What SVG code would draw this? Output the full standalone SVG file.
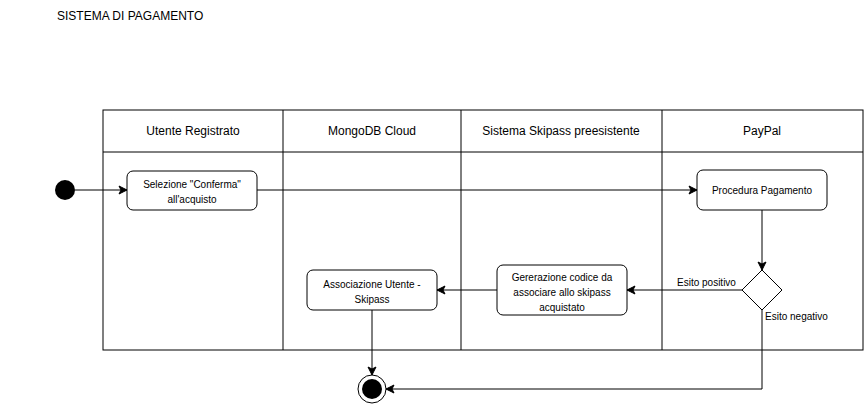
<svg xmlns="http://www.w3.org/2000/svg" width="866" height="405" viewBox="0 0 866 405">
<defs>
<style>
text{font-family:"Liberation Sans",Arial,sans-serif;fill:#000}
.t{font-size:12px}
.n{font-size:10px;text-anchor:middle}
.h{font-size:12px;text-anchor:middle}
.box{fill:#fff;stroke:#000;stroke-width:1}
.ln{fill:none;stroke:#000;stroke-width:1}
.c{fill:none;stroke:#000;stroke-width:1}
</style>
<marker id="arr" markerWidth="10" markerHeight="10" viewBox="0 0 10 10" refX="9" refY="5" orient="auto" markerUnits="userSpaceOnUse">
<path d="M1,1 L9,5 L1,9 L3,5 Z" fill="#000" stroke="#000" stroke-width="1"/>
</marker>
</defs>
<rect width="866" height="405" fill="#fff"/>
<text class="t" x="57" y="20">SISTEMA DI PAGAMENTO</text>
<g id="lanes">
<rect class="box" x="103" y="110" width="760" height="240"/>
<line class="ln" x1="103" y1="152" x2="863" y2="152"/>
<line class="ln" x1="283" y1="110" x2="283" y2="350"/>
<line class="ln" x1="461" y1="110" x2="461" y2="350"/>
<line class="ln" x1="662" y1="110" x2="662" y2="350"/>
<text class="h" x="193" y="135">Utente Registrato</text>
<text class="h" x="372" y="135">MongoDB Cloud</text>
<text class="h" x="561" y="135">Sistema Skipass preesistente</text>
<text class="h" x="762" y="135">PayPal</text>
</g>
<g id="connectors">
<line class="c" x1="75" y1="190" x2="127" y2="190" marker-end="url(#arr)"/>
<line class="c" x1="257" y1="190" x2="697" y2="190" marker-end="url(#arr)"/>
<line class="c" x1="762" y1="210" x2="762" y2="270" marker-end="url(#arr)"/>
<line class="c" x1="742" y1="290" x2="627" y2="290" marker-end="url(#arr)"/>
<line class="c" x1="497" y1="290" x2="437" y2="290" marker-end="url(#arr)"/>
<line class="c" x1="372" y1="310" x2="372" y2="375" marker-end="url(#arr)"/>
<polyline class="c" points="762,310 762,389 386,389" marker-end="url(#arr)"/>
<text x="677" y="286" style="font-size:10px">Esito positivo</text>
<text x="765" y="320" style="font-size:10px">Esito negativo</text>
</g>
<g id="start">
<circle cx="65" cy="190" r="10" fill="#000"/>
</g>
<g id="selezione">
<rect class="box" x="127" y="171" width="130" height="39" rx="6"/>
<text class="n" x="192" y="188">Selezione "Conferma"</text>
<text class="n" x="192" y="203">all'acquisto</text>
</g>
<g id="procedura">
<rect class="box" x="697" y="170" width="130" height="40" rx="6"/>
<text class="n" x="762" y="194">Procedura Pagamento</text>
</g>
<g id="decisione">
<polygon class="box" points="762,270 782,290 762,310 742,290"/>
</g>
<g id="generazione">
<rect class="box" x="497" y="265" width="130" height="50" rx="6"/>
<text class="n" x="562" y="281">Gererazione codice da</text>
<text class="n" x="562" y="296">associare allo skipass</text>
<text class="n" x="562" y="311">acquistato</text>
</g>
<g id="associazione">
<rect class="box" x="307" y="270" width="130" height="40" rx="6"/>
<text class="n" x="372" y="288">Associazione Utente -</text>
<text class="n" x="372" y="303">Skipass</text>
</g>
<g id="end">
<circle cx="372" cy="389" r="14" fill="#fff" stroke="#000" stroke-width="1"/>
<circle cx="372" cy="389" r="10" fill="#000"/>
</g>
</svg>
